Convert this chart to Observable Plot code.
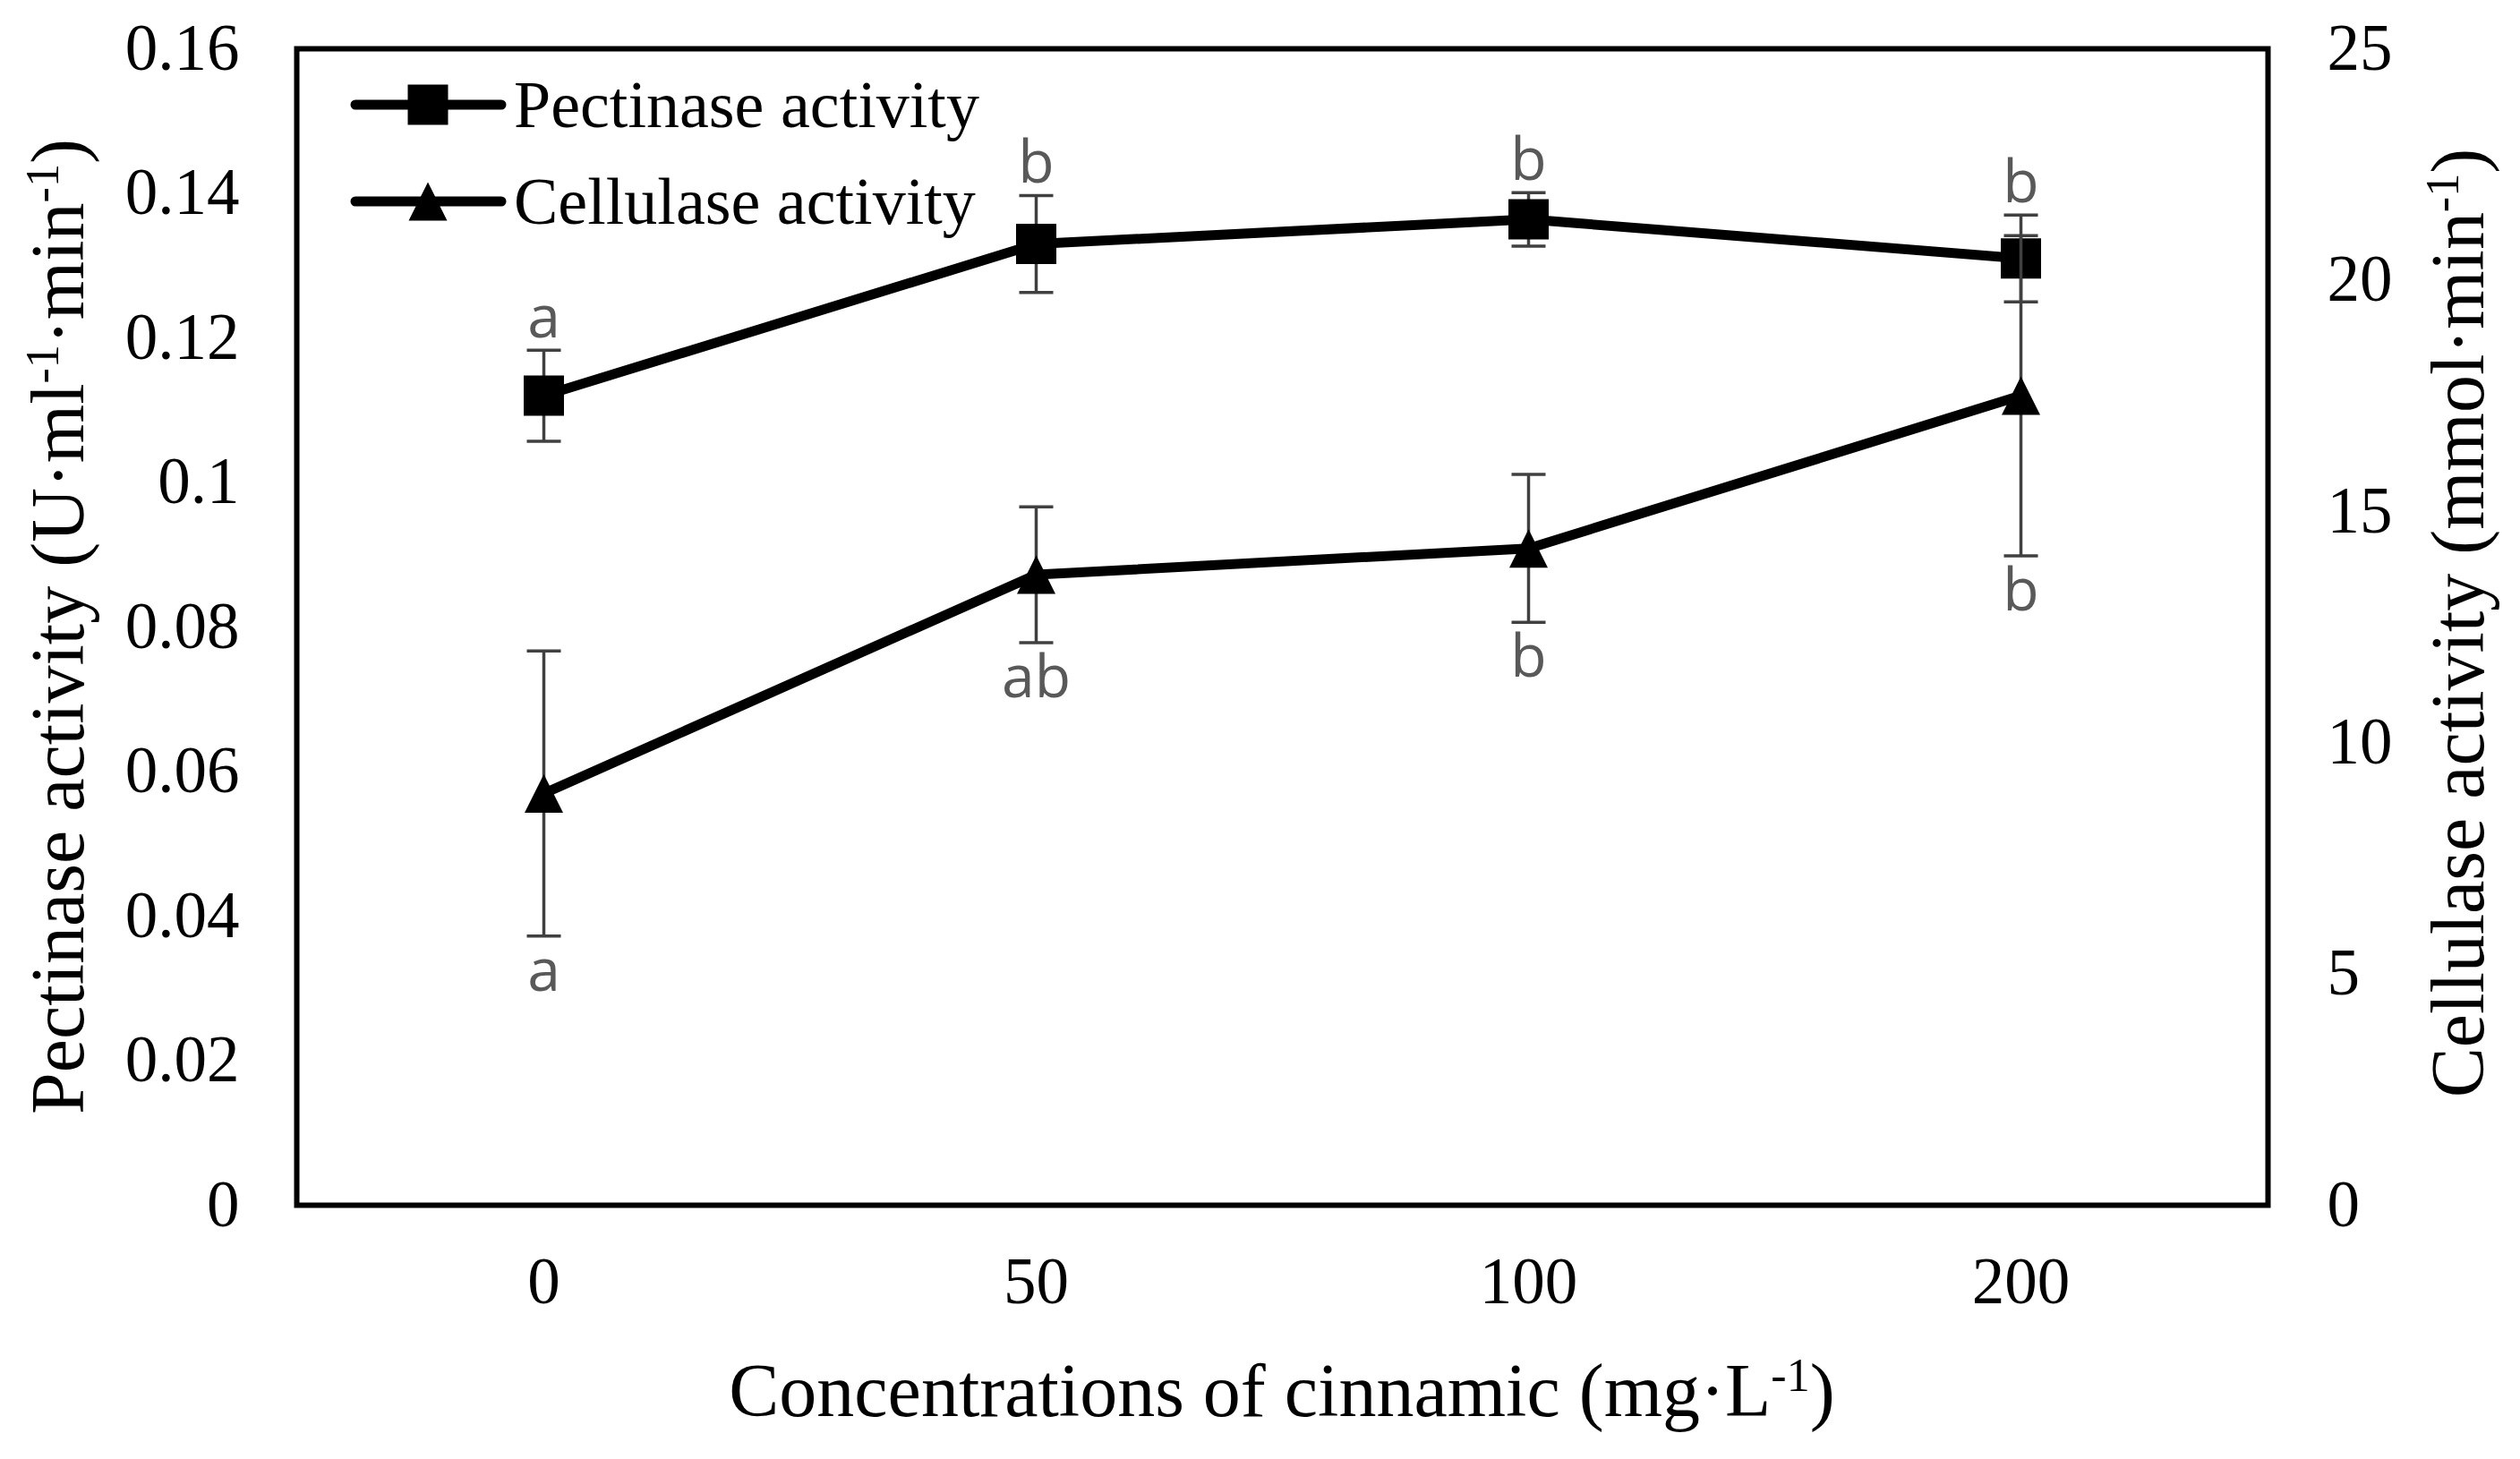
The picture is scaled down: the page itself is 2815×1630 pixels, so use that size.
<!DOCTYPE html>
<html><head><meta charset="utf-8">
<script src="https://cdn.jsdelivr.net/npm/d3@7"></script>
<script src="https://cdn.jsdelivr.net/npm/@observablehq/plot@0.6"></script>
<style>html,body{margin:0;padding:0;background:#fff}</style>
</head><body><div id="chart"></div>
<script>
// ---- data ----
const concentrations = ["0", "50", "100", "200"];
const pectinase = [0.112, 0.133, 0.1364, 0.131];
const pectinaseErr = [0.0063, 0.0067, 0.0037, 0.006];
const pectinaseLetters = ["a", "b", "b", "b"];
const cellulase = [8.9, 13.63, 14.2, 17.5];
const cellulaseErr = [3.08, 1.47, 1.6, 3.46];
const cellulaseLetters = ["a", "ab", "b", "b"];
const leftTicks = [0, 0.02, 0.04, 0.06, 0.08, 0.1, 0.12, 0.14, 0.16];
const rightTicks = [0, 5, 10, 15, 20, 25];
const leftMax = 0.16, rightMax = 25;

// ---- layout ----
const W = 2815, H = 1630, ML = 331, MR = 282, MT = 54, MB = 284;
const k = leftMax / rightMax;
const serif = "'Liberation Serif', 'Times New Roman', serif";
const sans = "'Open Sans', 'Liberation Sans', sans-serif";

const pect = concentrations.map((c, i) => ({c, v: pectinase[i], lo: pectinase[i] - pectinaseErr[i], hi: pectinase[i] + pectinaseErr[i], letter: pectinaseLetters[i]}));
const cell = concentrations.map((c, i) => ({c, v: cellulase[i] * k, lo: (cellulase[i] - cellulaseErr[i]) * k, hi: (cellulase[i] + cellulaseErr[i]) * k, letter: cellulaseLetters[i]}));

const capSym = {draw(ctx, size) { const w = Math.sqrt(size); ctx.moveTo(-w / 2, 0); ctx.lineTo(w / 2, 0); }};
const sqSym = {draw(ctx, size) { const w = Math.sqrt(size); ctx.rect(-w / 2, -w / 2, w, w); }};
const triSym = {draw(ctx, size) { const w = Math.sqrt(size); ctx.moveTo(0, -w / 2); ctx.lineTo(w / 2, w / 2); ctx.lineTo(-w / 2, w / 2); ctx.closePath(); }};
const rFor = w => w / Math.sqrt(Math.PI);

const errColor = "#404040", letterColor = "#595959";
const SQ = 45, TRI = 43, LW = 11;

function errMarks(data) {
  return [
    Plot.ruleX(data, {x: "c", y1: "lo", y2: "hi", stroke: errColor, strokeWidth: 3.5}),
    Plot.dot(data, {x: "c", y: "lo", symbol: capSym, r: rFor(38), stroke: errColor, strokeWidth: 3.5, fill: "none"}),
    Plot.dot(data, {x: "c", y: "hi", symbol: capSym, r: rFor(38), stroke: errColor, strokeWidth: 3.5, fill: "none"})
  ];
}

const chart = Plot.plot({
  width: W, height: H,
  marginLeft: ML, marginRight: MR, marginTop: MT, marginBottom: MB,
  style: {fontFamily: serif, fontSize: "73px", background: "#fff", color: "#000"},
  x: {type: "point", domain: concentrations, padding: 0.5},
  y: {domain: [0, leftMax]},
  marks: [
    Plot.axisY(leftTicks, {anchor: "left", tickSize: 0, tickPadding: 64, label: null, tickFormat: d => String(d), fontSize: 73}),
    Plot.axisY(rightTicks.map(t => t * k), {anchor: "right", tickSize: 0, tickPadding: 66, label: null, tickFormat: d => String(Math.round(d / k)), fontSize: 73}),
    Plot.axisX({tickSize: 0, tickPadding: 58, label: null, fontSize: 73}),
    ...errMarks(pect),
    Plot.line(pect, {x: "c", y: "v", stroke: "black", strokeWidth: LW}),
    Plot.dot(pect, {x: "c", y: "v", symbol: sqSym, r: rFor(SQ), fill: "black", stroke: "none"}),
    ...errMarks(cell),
    Plot.line(cell, {x: "c", y: "v", stroke: "black", strokeWidth: LW}),
    Plot.dot(cell, {x: "c", y: "v", symbol: triSym, r: rFor(TRI), fill: "black", stroke: "none"}),
    Plot.text(pect, {x: "c", y: "hi", text: "letter", dy: -14, lineAnchor: "bottom", fontFamily: sans, fontSize: 66, fill: letterColor}),
    Plot.text(cell, {x: "c", y: "lo", text: "letter", dy: 14, lineAnchor: "top", fontFamily: sans, fontSize: 66, fill: letterColor}),
    Plot.frame({stroke: "black", strokeWidth: 6})
  ]
});
document.getElementById("chart").appendChild(chart);

// ---- titles & legend ----
const svg = d3.select(chart);
const plotW = W - ML - MR, plotH = H - MT - MB;
function titleWithSup(sel, parts) {
  parts.forEach(p => {
    const t = sel.append("tspan").text(p.t);
    if (p.sup) t.attr("baseline-shift", "super").attr("font-size", "62%");
  });
}
const xt = svg.append("text").attr("x", ML + plotW / 2).attr("y", 1582).attr("text-anchor", "middle")
  .attr("font-family", serif).attr("font-size", 84).attr("fill", "black");
titleWithSup(xt, [{t: "Concentrations of cinnamic (mg·L"}, {t: "-1", sup: true}, {t: ")"}]);

const yl = svg.append("text").attr("transform", `translate(93,${MT + plotH / 2}) rotate(-90)`).attr("text-anchor", "middle")
  .attr("font-family", serif).attr("font-size", 84).attr("fill", "black");
titleWithSup(yl, [{t: "Pectinase activity (U·ml"}, {t: "-1", sup: true}, {t: "·min"}, {t: "-1", sup: true}, {t: ")"}]);

const yr = svg.append("text").attr("transform", `translate(2774,${MT + plotH / 2 - 4}) rotate(-90)`).attr("text-anchor", "middle")
  .attr("font-family", serif).attr("font-size", 84).attr("fill", "black");
titleWithSup(yr, [{t: "Cellulase activity (mmol·min"}, {t: "-1", sup: true}, {t: ")"}]);

const legendItems = [
  {label: "Pectinase activity", sym: "square"},
  {label: "Cellulase activity", sym: "triangle"}
];
const lg = svg.append("g");
legendItems.forEach((it, i) => {
  const y = MT + 63 + i * 108;
  lg.append("line").attr("x1", ML + 66).attr("x2", ML + 229).attr("y1", y).attr("y2", y)
    .attr("stroke", "black").attr("stroke-width", LW).attr("stroke-linecap", "round");
  const cx = ML + 147;
  if (it.sym === "square") {
    lg.append("rect").attr("x", cx - SQ / 2).attr("y", y - SQ / 2).attr("width", SQ).attr("height", SQ).attr("fill", "black");
  } else {
    lg.append("path").attr("d", `M${cx},${y - TRI / 2}L${cx + TRI / 2},${y + TRI / 2}L${cx - TRI / 2},${y + TRI / 2}Z`).attr("fill", "black");
  }
  lg.append("text").attr("x", ML + 243).attr("y", y + 25).attr("text-anchor", "start").attr("font-family", serif).attr("font-size", 74)
    .attr("fill", "black").text(it.label);
});
</script></body></html>
